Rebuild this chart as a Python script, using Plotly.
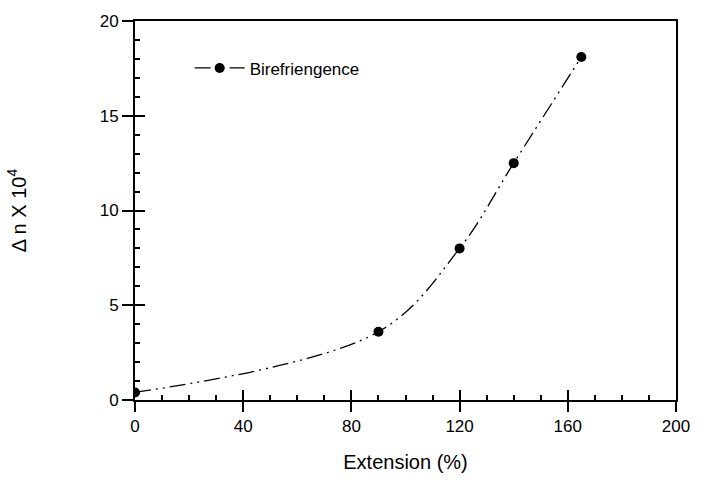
import plotly.graph_objects as go

extension = [0, 90, 120, 140, 165]
birefringence = [0.4, 3.6, 8.0, 12.5, 18.1]
series_name = "Birefriengence"
x_ticks = [0, 40, 80, 120, 160, 200]
y_ticks = [0, 5, 10, 15, 20]

FONT = dict(family="Liberation Sans, Arial, sans-serif", size=17, color="black")

fig = go.Figure()
fig.add_trace(go.Scatter(
    x=extension, y=birefringence, name=series_name, mode="lines+markers",
    line=dict(color="black", width=1.3, shape="spline", smoothing=1.0,
              dash="16px,5px,2px,5px,2px,5px"),
    marker=dict(color="black", size=10),
))
# invisible helper trace for the inside tick axes
fig.add_trace(go.Scatter(x=extension, y=birefringence, xaxis="x2", yaxis="y2",
                         mode="markers", marker=dict(opacity=0), showlegend=False,
                         hoverinfo="skip"))

common = dict(showgrid=False, zeroline=False, linecolor="black", linewidth=2,
              tickcolor="black", tickwidth=2)

fig.update_layout(
    width=702, height=489,
    margin=dict(l=135, r=17, t=18, b=89),
    plot_bgcolor="white", paper_bgcolor="white",
    font=FONT,
    showlegend=True,
    legend=dict(x=0.101, y=0.875, xanchor="left", yanchor="middle",
                bgcolor="rgba(0,0,0,0)", font=FONT, itemwidth=50),
    xaxis=dict(range=[0, 200], tickvals=x_ticks, ticks="outside", ticklen=10,
               mirror=True, showline=True,
               title=dict(text="Extension (%)", standoff=20), **common),
    yaxis=dict(range=[0, 20], tickvals=y_ticks, ticks="outside", ticklen=11,
               mirror=True, showline=True,
               title=dict(text="\u0394 n X 10<sup>4</sup>", standoff=68), **common),
    xaxis2=dict(range=[0, 200], overlaying="x", anchor="y2", side="bottom",
                tickvals=x_ticks, ticks="inside", ticklen=10, showticklabels=False,
                showline=False, showgrid=False, zeroline=False,
                tickcolor="black", tickwidth=2,
                minor=dict(dtick=10, tick0=0, ticks="inside", ticklen=5,
                           tickcolor="black", tickwidth=2, showgrid=False)),
    yaxis2=dict(range=[0, 20], overlaying="y", anchor="x2", side="left",
                tickvals=y_ticks, ticks="inside", ticklen=10, showticklabels=False,
                showline=False, showgrid=False, zeroline=False,
                tickcolor="black", tickwidth=2,
                minor=dict(dtick=1, tick0=0, ticks="inside", ticklen=5,
                           tickcolor="black", tickwidth=2, showgrid=False)),
)

fig.write_html("out.html")
